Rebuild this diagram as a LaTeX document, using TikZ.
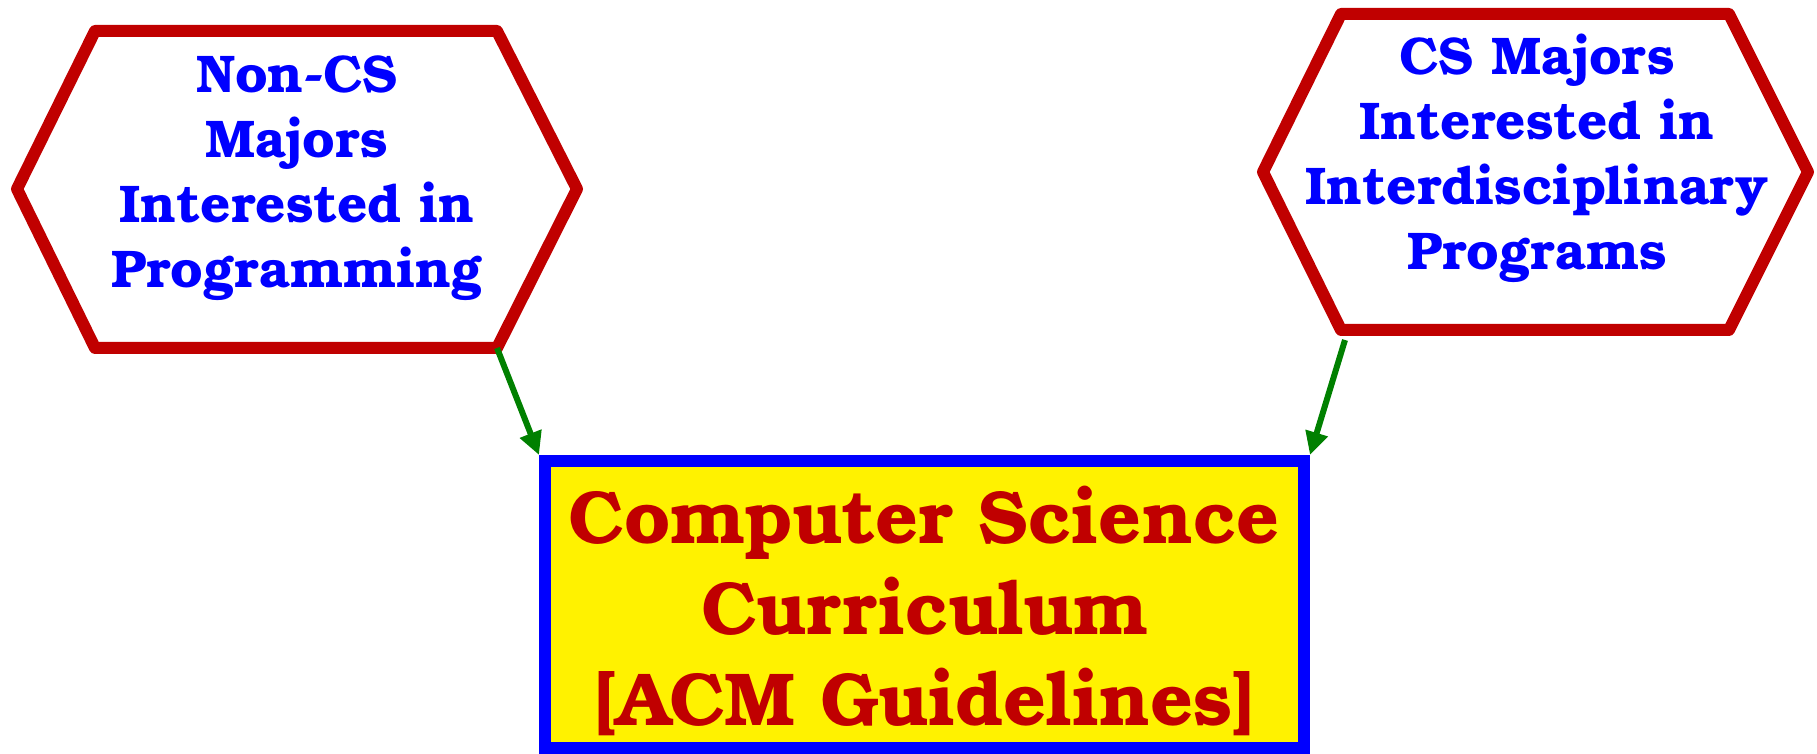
\documentclass[tikz,border=0pt]{standalone}
\usepackage{fontspec}
\setmainfont{texgyrebonum}[Extension=.otf,UprightFont=*-regular,BoldFont=*-bold]
\usetikzlibrary{arrows.meta}
\definecolor{hexred}{HTML}{C00000}
\definecolor{textblue}{HTML}{0000FF}
\definecolor{arrowgreen}{HTML}{008000}
\begin{document}
\begin{tikzpicture}[x=0.5pt,y=-0.5pt]
		\tikzset{hexagon/.style = {draw=hexred,line width=6pt,line join=round,fill=white}}
		\tikzset{hexlabel/.style = {align=center,text=textblue,font=\bfseries\fontsize{26.5}{32.5}\selectfont}}
		\tikzset{curriculum/.style = {draw=blue,line width=6pt,fill=yellow,minimum width=379.5pt,minimum height=143.5pt,inner sep=0pt}}
		\tikzset{curriclabel/.style = {align=center,text=hexred,font=\bfseries\fontsize{37.5}{45.5}\selectfont}}
		\tikzset{edge/.style = {draw=arrowgreen,line width=3pt,-{Triangle[length=11.5pt,width=11pt]}}}
		\useasboundingbox (0,0) rectangle (1817,754);
		% the two hexagons
		\draw[hexagon] (17,189) -- (95,31) -- (497,31) -- (577,189) -- (497,348) coordinate (nonbr) -- (95,348) -- cycle;
		\draw[hexagon] (1263,172) -- (1341,14) -- (1729,14) -- (1808,172) -- (1729,330) -- (1341,330) -- cycle;
		\coordinate (csbl) at (1345,340);
		\node[hexlabel] (noncs) at (297,178) {Non-CS\\Majors\\Interested in\\Programming};
		\node[hexlabel] (csmaj) at (1537,158) {CS Majors\\Interested in\\Interdisciplinary\\Programs};
		% target box
		\node[curriculum] (csc) at (924.5,604.5) {};
		\node[curriclabel] (csclabel) at (924.5,611) {Computer Science\\Curriculum\\{[ACM Guidelines]}};
		\path[edge] (nonbr) -- (csc.north west);
		\path[edge] (csbl) -- (csc.north east);
	\end{tikzpicture}
\end{document}
